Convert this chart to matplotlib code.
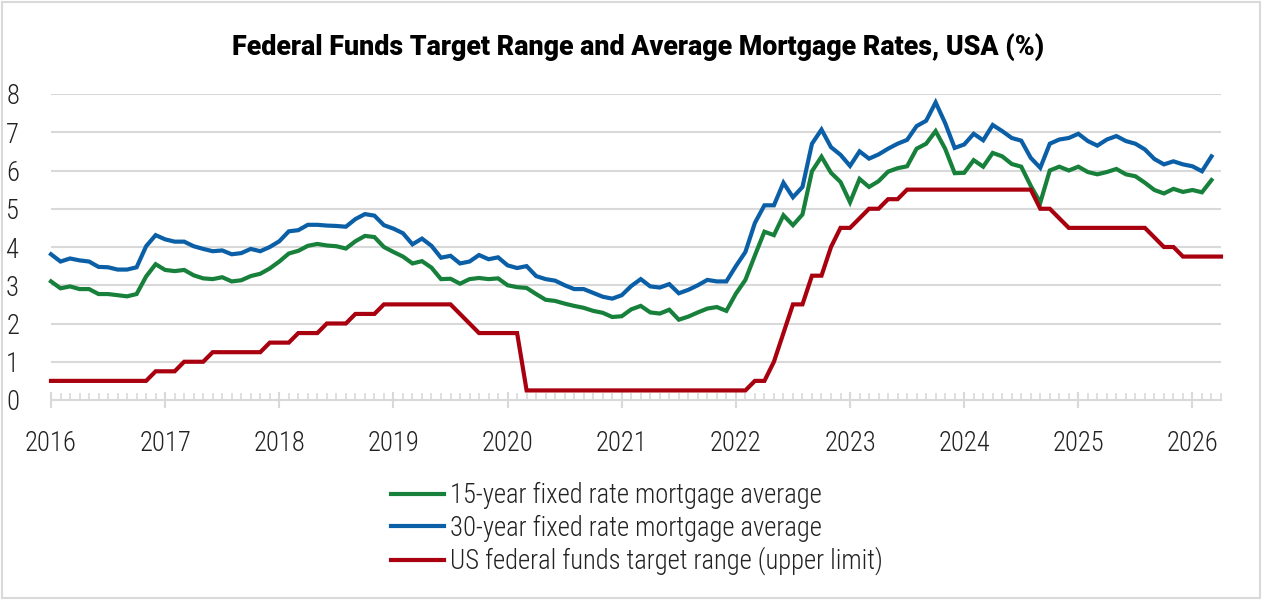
import matplotlib
matplotlib.use('Agg')
import matplotlib.pyplot as plt
from matplotlib.patches import Rectangle
from matplotlib.ticker import MultipleLocator
import numpy as np

# monthly values, Jan 2016 onwards (end-of-month readings)
rate_15y = [
    3.10, 2.92, 2.97, 2.90, 2.90, 2.77, 2.77, 2.74, 2.71, 2.77, 3.23, 3.55,
    3.40, 3.37, 3.40, 3.26, 3.18, 3.16, 3.21, 3.10, 3.13, 3.24, 3.30, 3.44,
    3.62, 3.83, 3.90, 4.03, 4.08, 4.04, 4.02, 3.96, 4.15, 4.29, 4.26, 4.00,
    3.87, 3.75, 3.57, 3.63, 3.46, 3.16, 3.17, 3.04, 3.16, 3.19, 3.16, 3.18,
    3.00, 2.95, 2.93, 2.77, 2.62, 2.59, 2.52, 2.46, 2.41, 2.33, 2.28, 2.17,
    2.19, 2.37, 2.46, 2.29, 2.26, 2.36, 2.10, 2.18, 2.29, 2.39, 2.43, 2.33,
    2.78, 3.14, 3.78, 4.40, 4.31, 4.83, 4.57, 4.85, 5.98, 6.36, 5.94, 5.70,
    5.17, 5.78, 5.57, 5.72, 5.97, 6.06, 6.11, 6.57, 6.70, 7.03, 6.57, 5.93,
    5.94, 6.27, 6.10, 6.46, 6.37, 6.17, 6.10, 5.60, 5.16, 6.00, 6.10, 6.00,
    6.10, 5.96, 5.90, 5.96, 6.04, 5.90, 5.85, 5.68, 5.49, 5.40, 5.52, 5.44,
    5.49, 5.43, 5.75,
]
rate_30y = [
    3.81, 3.62, 3.70, 3.65, 3.62, 3.48, 3.47, 3.41, 3.41, 3.47, 4.02, 4.31,
    4.20, 4.14, 4.14, 4.02, 3.95, 3.89, 3.91, 3.81, 3.84, 3.95, 3.89, 4.00,
    4.15, 4.41, 4.44, 4.58, 4.58, 4.56, 4.55, 4.53, 4.73, 4.86, 4.82, 4.57,
    4.48, 4.36, 4.07, 4.22, 4.03, 3.72, 3.77, 3.57, 3.62, 3.79, 3.68, 3.73,
    3.52, 3.45, 3.50, 3.24, 3.16, 3.12, 3.00, 2.90, 2.90, 2.80, 2.70, 2.65,
    2.74, 2.98, 3.16, 2.97, 2.94, 3.03, 2.79, 2.88, 3.00, 3.14, 3.10, 3.10,
    3.50, 3.87, 4.63, 5.09, 5.09, 5.68, 5.30, 5.57, 6.70, 7.07, 6.61, 6.41,
    6.12, 6.50, 6.31, 6.42, 6.57, 6.70, 6.80, 7.16, 7.30, 7.78, 7.24, 6.59,
    6.68, 6.96, 6.79, 7.19, 7.03, 6.85, 6.78, 6.33, 6.07, 6.70, 6.81, 6.85,
    6.96, 6.77, 6.65, 6.81, 6.90, 6.77, 6.70, 6.55, 6.30, 6.16, 6.24, 6.16,
    6.11, 5.98, 6.37,
]
fed_upper = (
    [0.50] * 11 + [0.75] * 3 + [1.00] * 3 + [1.25] * 6 + [1.50] * 3
    + [1.75] * 3 + [2.00] * 3 + [2.25] * 3 + [2.50] * 8
    + [2.25, 2.00] + [1.75] * 5 + [0.25] * 24
    + [0.50, 0.50, 1.00, 1.75, 2.50, 2.50, 3.25, 3.25, 4.00, 4.50, 4.50, 4.75,
       5.00, 5.00, 5.25, 5.25] + [5.50] * 14
    + [5.00, 5.00, 4.75] + [4.50] * 9 + [4.25, 4.00, 4.00] + [3.75] * 5
)

labels = ['15-year fixed rate mortgage average',
          '30-year fixed rate mortgage average',
          'US federal funds target range (upper limit)']
colors = ['#17803a', '#0b5fa6', '#a8000f']
year_ticks = list(range(2016, 2027))

x_mort = 2016 + np.arange(len(rate_15y)) / 12
x_fed = 2016 + np.arange(len(fed_upper)) / 12

plt.rcParams['font.family'] = ['Roboto Condensed', 'Roboto', 'DejaVu Sans']

W, H = 1265, 601
fig = plt.figure(figsize=(W / 100, H / 100), dpi=100)
ax = fig.add_axes([51 / W, 1 - 400 / H, 1170 / W, 306 / H])

for xs, ys, c, lab in [(x_mort, rate_15y, colors[0], labels[0]),
                       (x_mort, rate_30y, colors[1], labels[1]),
                       (x_fed, fed_upper, colors[2], labels[2])]:
    ax.plot(xs, ys, color=c, lw=3, label=lab, clip_on=False, solid_joinstyle='miter')

ax.set_xlim(2016, 2026.25)
ax.set_ylim(0, 8)
ax.set_yticks(range(0, 9))
ax.set_xticks(year_ticks)
ax.set_xticklabels([str(y) for y in year_ticks])
ax.xaxis.set_minor_locator(MultipleLocator(1 / 12))

grid_c = '#d9d9d9'
for v in range(1, 9):
    ax.axhline(v, color=grid_c, lw=1.5, zorder=0)
for s in ['top', 'right', 'left']:
    ax.spines[s].set_visible(False)
ax.spines['bottom'].set_color(grid_c)
ax.spines['bottom'].set_linewidth(1.5)

fs = 19.2
ax.tick_params(axis='y', length=0, pad=23, labelsize=fs, labelcolor='#222222')
ax.tick_params(axis='x', which='major', direction='inout', length=11, width=1.5,
               color=grid_c, pad=16, labelsize=fs, labelcolor='#222222')
ax.tick_params(axis='x', which='minor', direction='in', length=5, width=1.2, color=grid_c)
for t in ax.get_xticklabels() + ax.get_yticklabels():
    t.set_fontweight('light')

fig.text(638 / W, 1 - 47 / H, 'Federal Funds Target Range and Average Mortgage Rates, USA (%)',
         ha='center', va='center', fontsize=19.3, fontweight='black', family=['Roboto', 'DejaVu Sans'])

leg = ax.legend(loc='upper left', bbox_to_anchor=(391 / W, 1 - 482 / H), bbox_transform=fig.transFigure,
                frameon=False, borderpad=0, borderaxespad=0, handlelength=2.0, handletextpad=0.2,
                labelspacing=0.2, prop={'size': fs, 'weight': 'light'})
for t in leg.get_texts():
    t.set_color('#222222')

fig.patches.append(Rectangle((2 / W, 3 / H), 1258 / W, 596 / H, transform=fig.transFigure,
                             fill=False, edgecolor=grid_c, lw=1.5))

fig.savefig('out.png', dpi=100)
